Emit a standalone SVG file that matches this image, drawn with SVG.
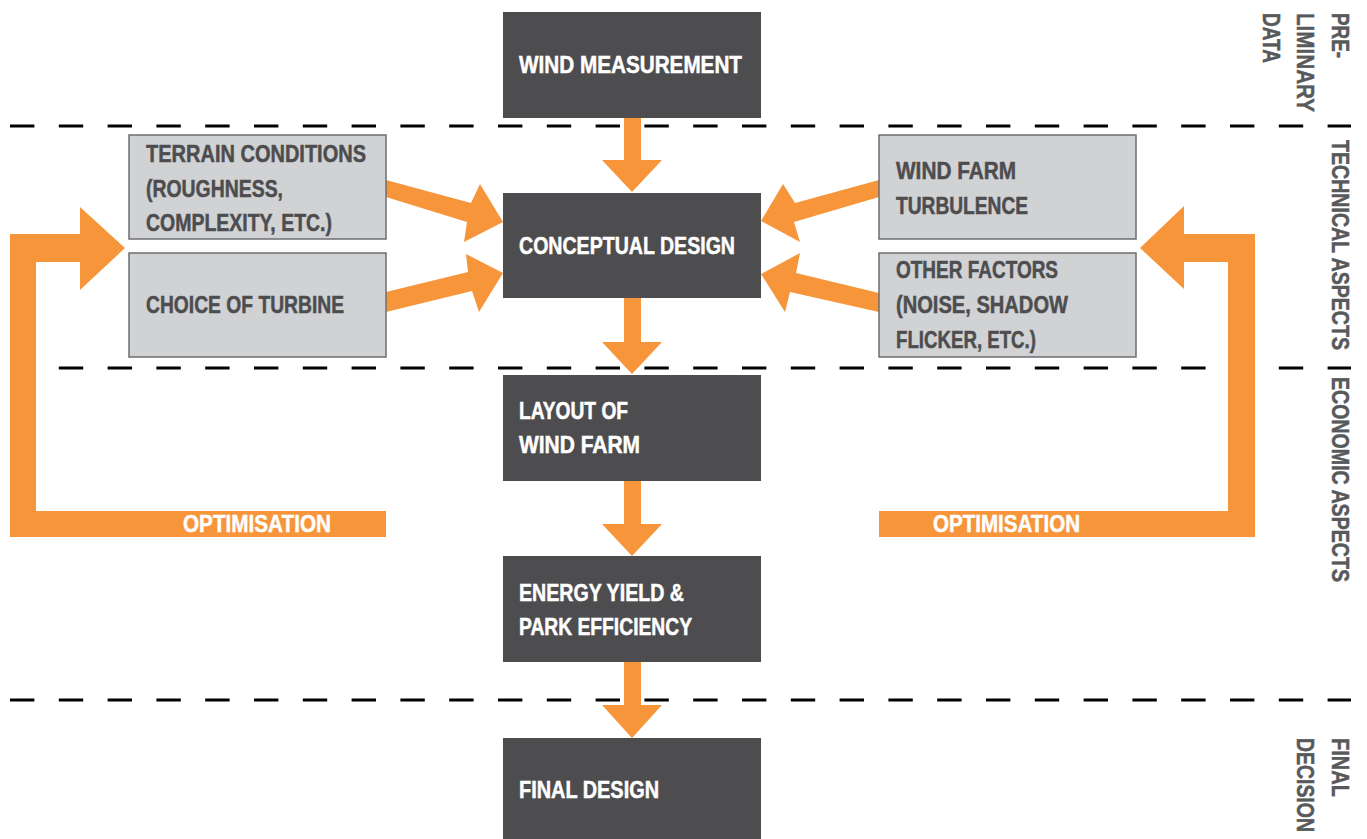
<svg xmlns="http://www.w3.org/2000/svg" width="1367" height="839" viewBox="0 0 1367 839">
<style>
.dark{fill:#4d4d4f}
.grey{fill:#d1d2d4;stroke:#6d6e70;stroke-width:1.5}
.wt{font-family:"Liberation Sans",Arial,sans-serif;font-weight:bold;font-size:24px;fill:#ffffff;stroke:#ffffff;stroke-width:0.5}
.gt{font-family:"Liberation Sans",Arial,sans-serif;font-weight:bold;font-size:24px;fill:#4d4d4f;stroke:#4d4d4f;stroke-width:0.5}
.vt{font-family:"Liberation Sans",Arial,sans-serif;font-weight:bold;font-size:24px;fill:#58595b;stroke:#58595b;stroke-width:0.5}
.dash{stroke:#000;stroke-width:3;stroke-dasharray:24.4 24.4;fill:none}
.or{fill:#f7953b}
</style>
<rect width="1367" height="839" fill="#ffffff"/>
<g id="dashes">
<line class="dash" x1="10" y1="126" x2="1351" y2="126"/>
<line class="dash" x1="10" y1="368" x2="1351" y2="368"/>
<line class="dash" x1="10" y1="700" x2="1351" y2="700"/>
</g>
<g id="connectors">
<polygon class="or" points="624,118 641,118 641,160 662,160 632,192 602,160 624,160"/>
<polygon class="or" points="624,298 641,298 641,342 662,342 632,374 602,342 624,342"/>
<polygon class="or" points="624,481 641,481 641,524 662,524 632,556 602,524 624,524"/>
<polygon class="or" points="624,662 641,662 641,705 662,705 632,738 602,705 624,705"/>
<polygon class="or" points="386,180 471,203 480,184 503,222 464,242 467,222 386,197"/>
<polygon class="or" points="386,292 468,272 466,254 503,273 479,312 472,291 386,312"/>
<polygon class="or" points="879,180 795,203 783,184 761,221 800,242 794,222 879,197"/>
<polygon class="or" points="879,293 796,273 800,253 761,274 785,312 790,292 879,312"/>
<polygon class="or" points="10,537 386,537 386,511 36,511 36,262 80,262 80,290 125,248 80,207 80,234 10,234"/>
<polygon class="or" points="1255,537 879,537 879,511 1228,511 1228,262 1184,262 1184,289 1140,248 1184,206 1184,234 1255,234"/>
<text class="wt" x="183" y="532" textLength="148" lengthAdjust="spacingAndGlyphs">OPTIMISATION</text>
<text class="wt" x="933" y="532" textLength="147" lengthAdjust="spacingAndGlyphs">OPTIMISATION</text>
</g>
<g id="wind-measurement">
<rect class="dark" x="503" y="12" width="258" height="106"/>
<text class="wt" x="519" y="73" textLength="223" lengthAdjust="spacingAndGlyphs">WIND MEASUREMENT</text>
</g>
<g id="conceptual-design">
<rect class="dark" x="503" y="193" width="258" height="105"/>
<text class="wt" x="519" y="254" textLength="216" lengthAdjust="spacingAndGlyphs">CONCEPTUAL DESIGN</text>
</g>
<g id="layout">
<rect class="dark" x="503" y="375" width="258" height="106"/>
<text class="wt" x="519" y="419" textLength="109" lengthAdjust="spacingAndGlyphs">LAYOUT OF</text>
<text class="wt" x="519" y="453" textLength="121" lengthAdjust="spacingAndGlyphs">WIND FARM</text>
</g>
<g id="energy-yield">
<rect class="dark" x="503" y="556" width="258" height="106"/>
<text class="wt" x="519" y="601" textLength="165" lengthAdjust="spacingAndGlyphs">ENERGY YIELD &amp;</text>
<text class="wt" x="519" y="635" textLength="173" lengthAdjust="spacingAndGlyphs">PARK EFFICIENCY</text>
</g>
<g id="final-design">
<rect class="dark" x="503" y="738" width="258" height="101"/>
<text class="wt" x="519" y="798" textLength="140" lengthAdjust="spacingAndGlyphs">FINAL DESIGN</text>
</g>
<g id="terrain">
<rect class="grey" x="129" y="135" width="257" height="104"/>
<text class="gt" x="146" y="162" textLength="220" lengthAdjust="spacingAndGlyphs">TERRAIN CONDITIONS</text>
<text class="gt" x="146" y="197" textLength="137" lengthAdjust="spacingAndGlyphs">(ROUGHNESS,</text>
<text class="gt" x="146" y="231" textLength="186" lengthAdjust="spacingAndGlyphs">COMPLEXITY, ETC.)</text>
</g>
<g id="turbine">
<rect class="grey" x="129" y="253" width="257" height="104"/>
<text class="gt" x="146" y="313" textLength="198" lengthAdjust="spacingAndGlyphs">CHOICE OF TURBINE</text>
</g>
<g id="turbulence">
<rect class="grey" x="879" y="135" width="257" height="104"/>
<text class="gt" x="896" y="179" textLength="120" lengthAdjust="spacingAndGlyphs">WIND FARM</text>
<text class="gt" x="896" y="214" textLength="132" lengthAdjust="spacingAndGlyphs">TURBULENCE</text>
</g>
<g id="other-factors">
<rect class="grey" x="879" y="253" width="257" height="104"/>
<text class="gt" x="896" y="278" textLength="162" lengthAdjust="spacingAndGlyphs">OTHER FACTORS</text>
<text class="gt" x="896" y="313" textLength="172" lengthAdjust="spacingAndGlyphs">(NOISE, SHADOW</text>
<text class="gt" x="896" y="348" textLength="140" lengthAdjust="spacingAndGlyphs">FLICKER, ETC.)</text>
</g>
<g id="phase-labels">
<text class="vt" transform="translate(1332,13) rotate(90)" textLength="45" lengthAdjust="spacingAndGlyphs">PRE-</text>
<text class="vt" transform="translate(1297,13) rotate(90)" textLength="99" lengthAdjust="spacingAndGlyphs">LIMINARY</text>
<text class="vt" transform="translate(1263,13) rotate(90)" textLength="50" lengthAdjust="spacingAndGlyphs">DATA</text>
<text class="vt" transform="translate(1332,140) rotate(90)" textLength="210" lengthAdjust="spacingAndGlyphs">TECHNICAL ASPECTS</text>
<text class="vt" transform="translate(1332,377) rotate(90)" textLength="205" lengthAdjust="spacingAndGlyphs">ECONOMIC ASPECTS</text>
<text class="vt" transform="translate(1332,738) rotate(90)" textLength="59" lengthAdjust="spacingAndGlyphs">FINAL</text>
<text class="vt" transform="translate(1297,738) rotate(90) scale(0.81,1)">DECISION</text>
</g>
</svg>
